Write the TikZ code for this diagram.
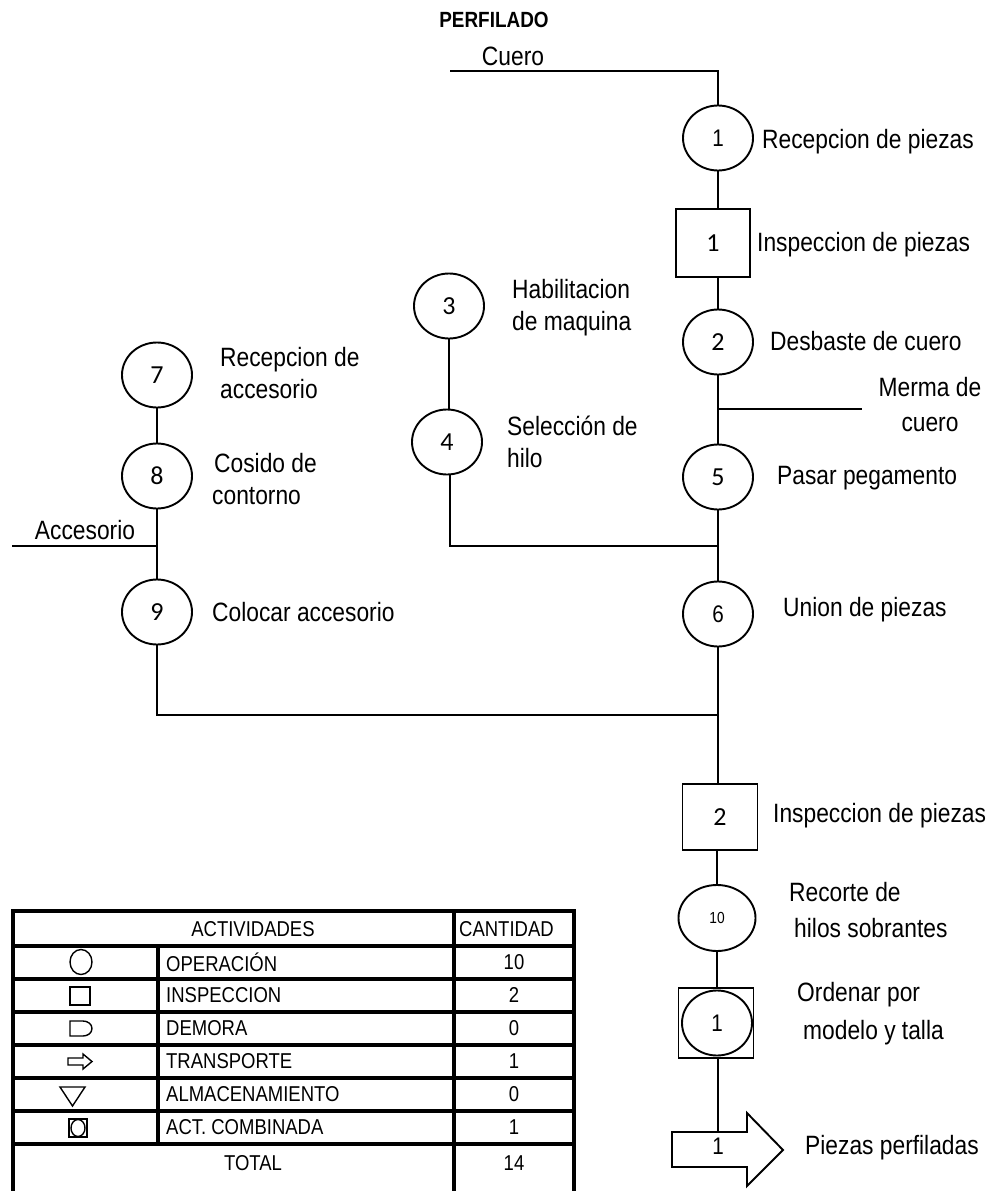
\documentclass[tikz,border=0pt]{standalone}
\usepackage{fontspec}
\setmainfont{Liberation Sans}[FakeStretch=0.86]
\newfontfamily\numfont{Carlito}
\usetikzlibrary{shapes.geometric}
\newcommand\lblfont{\fontsize{26.5}{32}\selectfont}
\newcommand\tabfont{\fontsize{21.5}{24}\selectfont}
\newcommand\nfont{\numfont\fontsize{26}{28}\selectfont}
\newcommand\afont{\fontsize{24}{26}\selectfont}
\newcommand\smallnum{\fontsize{16}{18}\selectfont}

\begin{document}
\begin{tikzpicture}[x=1pt,y=-1pt,
  conn/.style={line width=2.6pt},
  op/.style={draw, ellipse, line width=1.9pt, minimum width=70pt, minimum height=65pt, inner sep=0pt, font=\nfont},
  insp/.style={draw, rectangle, line width=1.9pt, minimum width=74pt, minimum height=68pt, inner sep=0pt, font=\nfont},
  lbl/.style={anchor=west, align=left, font=\lblfont, inner sep=0pt},
  tline/.style={line width=3.4pt},
  ttext/.style={font=\tabfont, inner sep=0pt},
  tname/.style={ttext, anchor=west},
  sym/.style={line width=1.4pt}
]
\useasboundingbox (0,0) rectangle (996,1191);

% title and incoming material
\node[font=\bfseries\fontsize{22}{24}\selectfont] (title) at (494,20) {PERFILADO};
\node[font=\lblfont] (cuero) at (513,56) {Cuero};
\coordinate (cin) at (450,71);
\coordinate (ccorner) at (718,71);

% main column
\node[op, font=\afont] (o1) at (718,138) {1};
\node[insp] (i1) at (713,243) {1};
\node[op] (o2) at (718,342) {2};
\coordinate (merma) at (718,409);
\coordinate (mermaend) at (862,409);
\node[op] (o5) at (718,477) {5};
\coordinate (j1) at (718,546);
\node[op, font=\afont] (o6) at (718,614) {6};
\coordinate (j2) at (718,715);
\node[insp, minimum height=66pt, minimum width=75pt] (i2) at (720,817) {2};
\node[op, minimum width=77pt, minimum height=66pt, font=\smallnum] (o10) at (717,918) {10};
\node[draw, rectangle, line width=1.9pt, minimum width=75pt, minimum height=70pt] (cb) at (716,1023) {};
\node[op, font=\afont] (cbo) at (717,1023) {1};
\coordinate (atop) at (718,1132);
\draw[line width=1.9pt] (672,1132) -- (747,1132) -- (747,1113) -- (783,1150)
  -- (747,1186) -- (747,1167) -- (672,1167) -- cycle;
\node[font=\afont] (tr) at (718,1146) {1};

% thread branch
\node[op] (o3) at (449,306) {3};
\node[op] (o4) at (447,442) {4};
\coordinate (j1w) at (450,546);

% accessory branch
\node[op] (o7) at (157,375) {7};
\node[op] (o8) at (157,476) {8};
\coordinate (acc) at (157,546);
\coordinate (accend) at (12,546);
\node[op] (o9) at (157,612) {9};
\coordinate (j2w) at (157,715);

% connectors
\draw[conn] (cin) -- (ccorner) -- (o1.north);
\draw[conn] (o1.south) -- (o1.south |- i1.north);
\draw[conn] (i1.south -| o2.north) -- (o2.north);
\draw[conn] (o2.south) -- (o5.north);
\draw[conn] (merma) -- (mermaend);
\draw[conn] (o5.south) -- (o6.north);
\draw[conn] (o3.south) -- (o3.south |- o4.north);
\draw[conn] (j1w |- o4.south) -- (j1w) -- (j1);
\draw[conn] (o7.south) -- (o8.north);
\draw[conn] (o8.south) -- (o9.north);
\draw[conn] (accend) -- (acc);
\draw[conn] (o9.south) -- (j2w) -- (j2);
\draw[conn] (o6.south) -- (o6.south |- i2.north);
\draw[conn] (i2.south -| o10.north) -- (o10.north);
\draw[conn] (o10.south) -- (o10.south |- cb.north);
\draw[conn] (cb.south -| atop) -- (atop);

% activity labels
\node[lbl] (l1) at (762,142) {Recepcion de piezas};
\node[lbl] (l2) at (757,245) {Inspeccion de piezas};
\node[lbl] (l3) at (512,308) {Habilitacion\\de maquina};
\node[lbl] (l4) at (770,341) {Desbaste de cuero};
\node[font=\lblfont, align=center, inner sep=0pt] (l5) at (930,405) {Merma de\\[3pt]cuero};
\node[lbl] (l6) at (507,442) {Selección de\\hilo};
\node[lbl] (l7) at (777,478) {Pasar pegamento};
\node[lbl] (l8) at (220,373) {Recepcion de\\accesorio};
\node[lbl] (l9) at (212,479) {\hspace*{2pt}Cosido de\\contorno};
\node[font=\lblfont] (l10) at (85,530) {Accesorio};
\node[lbl] (l11) at (212,612) {Colocar accesorio};
\node[lbl] (l12) at (783,610) {Union de piezas};
\node[lbl] (l13) at (773,816) {Inspeccion de piezas};
\node[lbl] (l14) at (789,910) {Recorte de\\[4pt]\hspace*{5pt}hilos sobrantes};
\node[lbl] (l15) at (797,1014) {Ordenar por\\[6pt]\hspace*{6pt}modelo y talla};
\node[lbl] (l16) at (805,1148) {Piezas perfiladas};

% summary table
\draw[tline] (13,911) rectangle (574,1196);
\foreach \yy in {946,979,1012,1045,1078,1111,1144}
  \draw[tline] (13,\yy) -- (574,\yy);
\draw[tline] (454,911) -- (454,1196);
\draw[tline] (158,946) -- (158,1144);

\node[ttext] at (253,929) {ACTIVIDADES};
\node[ttext, anchor=west] at (459,929) {CANTIDAD};
\node[tname] at (166,962) {OPERACIÓN};
\node[tname] at (166,995) {INSPECCION};
\node[tname] at (166,1028) {DEMORA};
\node[tname] at (166,1061) {TRANSPORTE};
\node[tname] at (166,1094) {ALMACENAMIENTO};
\node[tname] at (166,1127) {ACT. COMBINADA};
\node[ttext] at (253,1163) {TOTAL};
\node[ttext] at (514,962) {10};
\node[ttext] at (514,995) {2};
\node[ttext] at (514,1028) {0};
\node[ttext] at (514,1061) {1};
\node[ttext] at (514,1094) {0};
\node[ttext] at (514,1127) {1};
\node[ttext] at (514,1163) {14};

% table symbols
\draw[sym] (81,962) ellipse [x radius=11, y radius=12.5];
\draw[sym] (70,987) rectangle (90,1005);
\draw[sym] (70,1021) -- (83,1021) to[out=0,in=90] (92,1028.5) to[out=-90,in=0] (83,1036) -- (70,1036) -- cycle;
\draw[sym] (68,1058) -- (83,1058) -- (83,1054) -- (92,1061.5) -- (83,1069) -- (83,1065) -- (68,1065) -- cycle;
\draw[sym] (60,1087) -- (85,1087) -- (72.5,1106) -- cycle;
\draw[sym] (69,1119) rectangle (87,1137);
\draw[sym] (78,1128) ellipse [x radius=7, y radius=8.5];
\end{tikzpicture}
\end{document}
